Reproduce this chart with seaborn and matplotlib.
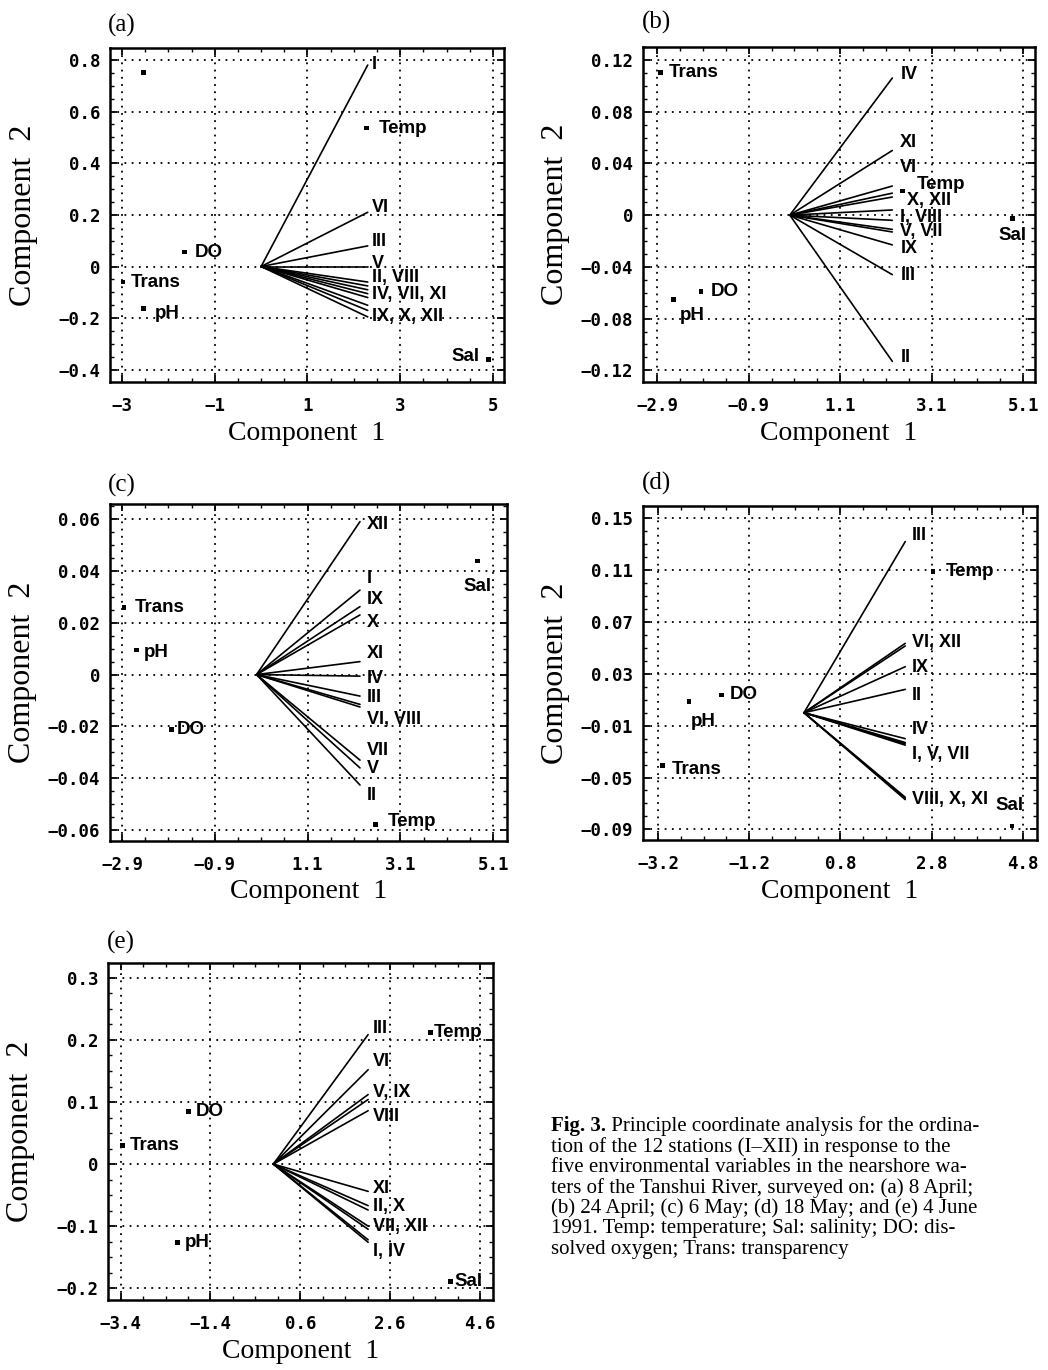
import numpy as np
import pandas as pd
import matplotlib
matplotlib.use("Agg")
import matplotlib.pyplot as plt
import seaborn as sns
from matplotlib.ticker import AutoMinorLocator

sns.set_theme(style="white")
plt.rcParams['font.family'] = ['DejaVu Sans']

# ---------------- data ----------------
stations = ['I', 'II', 'III', 'IV', 'V', 'VI', 'VII', 'VIII', 'IX', 'X', 'XI', 'XII']
variables = ['Temp', 'Sal', 'DO', 'Trans', 'pH']

# panel (a) 8 April
a_sta_x = [2.30, 2.30, 2.30, 2.30, 2.30, 2.30, 2.30, 2.30, 2.30, 2.30, 2.30, 2.30]
a_sta_y = [0.78, -0.06, 0.08, -0.09, 0.0, 0.21, -0.105, -0.075, -0.15, -0.17, -0.12, -0.195]
a_var_x = [2.28, 4.91, -1.66, -2.98, -2.53]
a_var_y = [0.536, -0.36, 0.056, -0.06, -0.161]
a_extra_x = [-2.53]
a_extra_y = [0.75]
a_groups = [['I'], ['VI'], ['III'], ['V'], ['II', 'VIII'], ['IV', 'VII', 'XI'], ['IX', 'X', 'XII']]
a_xticks = ['-3', '-1', '1', '3', '5']
a_yticks = ['-0.4', '-0.2', '0', '0.2', '0.4', '0.6', '0.8']

# panel (b) 24 April
b_sta_x = [2.24, 2.24, 2.24, 2.24, 2.24, 2.24, 2.24, 2.24, 2.24, 2.24, 2.24, 2.24]
b_sta_y = [0.004, -0.113, -0.046, 0.106, -0.011, 0.0225, -0.013, -0.004, -0.023, 0.017, 0.050, 0.014]
b_var_x = [2.46, 4.86, -1.94, -2.83, -2.55]
b_var_y = [0.0186, -0.0023, -0.059, 0.110, -0.065]
b_groups = [['IV'], ['XI'], ['VI'], ['X', 'XII'], ['I', 'VIII'], ['V', 'VII'], ['IX'], ['III'], ['II']]
b_xticks = ['-2.9', '-0.9', '1.1', '3.1', '5.1']
b_yticks = ['-0.12', '-0.08', '-0.04', '0', '0.04', '0.08', '0.12']

# panel (c) 6 May
c_sta_x = [2.23, 2.23, 2.23, 2.23, 2.23, 2.23, 2.23, 2.23, 2.23, 2.23, 2.23, 2.23]
c_sta_y = [0.0326, -0.0426, -0.0083, -0.0006, -0.036, -0.0115, -0.033, -0.0125, 0.0262, 0.023, 0.005, 0.059]
c_var_x = [2.57, 4.77, -1.83, -2.86, -2.58]
c_var_y = [-0.0578, 0.0438, -0.0212, 0.026, 0.0095]
c_groups = [['XII'], ['I'], ['IX'], ['X'], ['XI'], ['IV'], ['III'], ['VI', 'VIII'], ['VII'], ['V'], ['II']]
c_xticks = ['-2.9', '-0.9', '1.1', '3.1', '5.1']
c_yticks = ['-0.06', '-0.04', '-0.02', '0', '0.02', '0.04', '0.06']

# panel (d) 18 May
d_sta_x = [2.22, 2.22, 2.22, 2.22, 2.22, 2.22, 2.22, 2.22, 2.22, 2.22, 2.22, 2.22]
d_sta_y = [-0.024, 0.018, 0.132, -0.020, -0.023, 0.0535, -0.025, -0.0652, 0.0355, -0.066, -0.067, 0.0515]
d_var_x = [2.83, 4.56, -1.80, -3.11, -2.52]
d_var_y = [0.109, -0.0874, 0.0137, -0.041, 0.0085]
d_groups = [['III'], ['VI', 'XII'], ['IX'], ['II'], ['IV'], ['I', 'V', 'VII'], ['VIII', 'X', 'XI']]
d_xticks = ['-3.2', '-1.2', '0.8', '2.8', '4.8']
d_yticks = ['-0.09', '-0.05', '-0.01', '0.03', '0.07', '0.11', '0.15']

# panel (e) 4 June
e_sta_x = [2.11, 2.11, 2.11, 2.11, 2.11, 2.11, 2.11, 2.11, 2.11, 2.11, 2.11, 2.11]
e_sta_y = [-0.126, -0.067, 0.2086, -0.122, 0.112, 0.152, -0.100, 0.086, 0.104, -0.074, -0.044, -0.105]
e_var_x = [3.50, 3.95, -1.88, -3.35, -2.14]
e_var_y = [0.212, -0.189, 0.085, 0.030, -0.127]
e_groups = [['III'], ['VI'], ['V', 'IX'], ['VIII'], ['XI'], ['II', 'X'], ['VII', 'XII'], ['I', 'IV']]
e_xticks = ['-3.4', '-1.4', '0.6', '2.6', '4.6']
e_yticks = ['-0.2', '-0.1', '0', '0.1', '0.2', '0.3']

caption_bold = "Fig. 3."
caption_lines = [
    "  Principle coordinate analysis for the ordina-",
    "tion of the 12 stations (I\u2013XII) in response to the",
    "five environmental variables in the nearshore wa-",
    "ters of the Tanshui River, surveyed on: (a) 8 April;",
    "(b) 24 April; (c) 6 May; (d) 18 May; and (e) 4 June",
    "1991. Temp: temperature; Sal: salinity; DO: dis-",
    "solved oxygen; Trans: transparency",
]

# ---------------- layout / style (pixels) ----------------
W, H = 1048, 1370
panels = {
    'a': dict(box=(110, 504, 48, 382), xlim=(-3.26, 5.24), ylim=(-0.447, 0.846),
              sx=a_sta_x, sy=a_sta_y, vx=a_var_x, vy=a_var_y, groups=a_groups,
              xt=a_xticks, yt=a_yticks, title=(108, 25),
              goff=[(4, 1), (4, 5), (4, 4), (4, 3), (4, 6), (4, -1), (4, -6)],
              voff=[(12, 0, 'left'), (-9, 3, 'right'), (11, 0, 'left'), (8, 0, 'left'), (11, -5, 'left')]),
    'b': dict(box=(643, 1035, 47, 382), xlim=(-3.21, 5.36), ylim=(-0.129, 0.130),
              sx=b_sta_x, sy=b_sta_y, vx=b_var_x, vy=b_var_y, groups=b_groups,
              xt=b_xticks, yt=b_yticks, title=(642, 22),
              goff=[(8, 4), (8, 8), (8, 19), (15, -5), (8, -2), (8, -1), (8, -4), (8, -1), (8, 4)],
              voff=[(14, 7, 'left'), (0, -17, 'center'), (10, 0, 'left'), (8, 0, 'left'), (7, -16, 'left')]),
    'c': dict(box=(110, 507, 504, 841), xlim=(-3.16, 5.40), ylim=(-0.0642, 0.0658),
              sx=c_sta_x, sy=c_sta_y, vx=c_var_x, vy=c_var_y, groups=c_groups,
              xt=c_xticks, yt=c_yticks, title=(108, 485),
              goff=[(7, -3), (7, 12), (7, 7), (7, -8), (7, 8), (7, -2), (7, -1), (7, -14), (7, 10), (7, -1), (7, -10)],
              voff=[(12, 3, 'left'), (0, -25, 'center'), (5, 0, 'left'), (11, 0, 'left'), (7, -3, 'left')]),
    'd': dict(box=(643, 1037, 506, 840), xlim=(-3.53, 5.11), ylim=(-0.0982, 0.1595),
              sx=d_sta_x, sy=d_sta_y, vx=d_var_x, vy=d_var_y, groups=d_groups,
              xt=d_xticks, yt=d_yticks, title=(642, 483),
              goff=[(7, 6), (7, 2), (7, -1), (7, -6), (7, 9), (7, -11), (7, -1)],
              voff=[(13, 0, 'left'), (-2, 21, 'center'), (8, 0, 'left'), (10, -4, 'left'), (2, -20, 'left')]),
    'e': dict(box=(108, 493, 963, 1300), xlim=(-3.68, 4.89), ylim=(-0.219, 0.324),
              sx=e_sta_x, sy=e_sta_y, vx=e_var_x, vy=e_var_y, groups=e_groups,
              xt=e_xticks, yt=e_yticks, title=(107, 942),
              goff=[(5, 6), (5, 8), (5, 5), (5, -6), (5, 3), (5, 1), (5, 1), (5, -10)],
              voff=[(3, 0, 'left'), (4, 0, 'left'), (7, 0, 'left'), (7, 0, 'left'), (8, 0, 'left')]),
}

TICK_FONT = dict(family='DejaVu Sans Mono', weight='bold', size=12.5)
VAR_FONT = dict(family='Liberation Sans', weight='bold', size=13.5)
STA_FONT = dict(family='Liberation Sans', weight='bold', size=13)
SERIF = 'Liberation Serif'

fig = plt.figure(figsize=(W / 100, H / 100), dpi=100)
fig.patch.set_facecolor('white')


def fmt(s):
    return s.replace('-', '\u2212')


for key, p in panels.items():
    l, r, t, b = p['box']
    ax = fig.add_axes([l / W, 1 - b / H, (r - l) / W, (b - t) / H])
    ax.set_facecolor('white')

    # station vectors from the origin
    rows = []
    for st, x, y in zip(stations, p['sx'], p['sy']):
        rows.append(dict(station=st, order=0, x=0.0, y=0.0))
        rows.append(dict(station=st, order=1, x=x, y=y))
    df = pd.DataFrame(rows)
    sns.lineplot(data=df, x='x', y='y', units='station', estimator=None, sort=False,
                 color='black', lw=1.2, ax=ax, legend=False)

    # environmental variables
    vdf = pd.DataFrame(dict(var=variables, x=p['vx'], y=p['vy']))
    sns.scatterplot(data=vdf, x='x', y='y', marker='s', s=12, color='black',
                    edgecolor='none', ax=ax, legend=False, zorder=5)
    if key == 'a':
        sns.scatterplot(x=a_extra_x, y=a_extra_y, marker='s', s=12, color='black',
                        edgecolor='none', ax=ax, legend=False, zorder=5)

    for (name, x, y), (dx, dy, ha) in zip(zip(variables, p['vx'], p['vy']), p['voff']):
        ax.annotate(name, xy=(x, y), xytext=(dx, dy), textcoords='offset pixels',
                    ha=ha, va='center', color='black', **VAR_FONT, zorder=6)

    # station labels
    idx = {s: i for i, s in enumerate(stations)}
    for grp, (dx, dy) in zip(p['groups'], p['goff']):
        gx = max(p['sx'][idx[s]] for s in grp)
        gy = np.mean([p['sy'][idx[s]] for s in grp])
        ax.annotate(', '.join(grp), xy=(gx, gy), xytext=(dx, dy), textcoords='offset pixels',
                    ha='left', va='center', color='black', **STA_FONT, zorder=6)

    ax.set_xlim(*p['xlim'])
    ax.set_ylim(*p['ylim'])
    xt = [float(s) for s in p['xt']]
    yt = [float(s) for s in p['yt']]
    ax.set_xticks(xt)
    ax.set_xticklabels([fmt(s) for s in p['xt']], fontdict=TICK_FONT)
    ax.set_yticks(yt)
    ax.set_yticklabels([fmt(s) for s in p['yt']], fontdict=TICK_FONT)
    ax.xaxis.set_minor_locator(AutoMinorLocator(4))
    ax.yaxis.set_minor_locator(AutoMinorLocator(4))
    ax.tick_params(which='both', direction='in', top=True, right=True, colors='black',
                   bottom=True, left=True)
    ax.tick_params(which='major', length=5, width=1.3)
    ax.tick_params(which='minor', length=3, width=1.0)
    ax.tick_params(axis='x', which='major', pad=11)
    ax.tick_params(axis='y', which='major', pad=7)
    ax.grid(True, which='major', color='black', linestyle=(0, (1, 3)), lw=1.3)
    for sp in ax.spines.values():
        sp.set_visible(True)
        sp.set_color('black')
        sp.set_linewidth(1.8)

    ax.set_xlabel('Component  1', family=SERIF, size=20, color='black')
    ax.set_ylabel('Component  2', family=SERIF, size=23, color='black')
    hpx = b - t
    ax.xaxis.set_label_coords(0.5, -51 / hpx)
    ax.xaxis.label.set_va('center')
    ax.yaxis.set_label_coords(-87 / (r - l), 0.5)
    ax.yaxis.label.set_va('center')
    ax.yaxis.label.set_ha('center')

    tx, ty = p['title']
    fig.text(tx / W, 1 - ty / H, '(%s)' % key, family=SERIF, size=18, ha='left', va='center',
             color='black')

# caption
cx = 551
cy0 = 1126
dy = 20.6
cap_size = 15
t0 = fig.text(cx / W, 1 - cy0 / H, caption_bold, family=SERIF, weight='bold', size=cap_size,
              ha='left', va='center', color='black')
fig.canvas.draw()
bb = t0.get_window_extent(renderer=fig.canvas.get_renderer())
fig.text(bb.x1 / W, 1 - cy0 / H, caption_lines[0][1:],
         family=SERIF, size=cap_size, ha='left', va='center', color='black')
for i, line in enumerate(caption_lines[1:], start=1):
    fig.text(cx / W, 1 - (cy0 + i * dy) / H, line, family=SERIF, size=cap_size,
             ha='left', va='center', color='black')

fig.savefig('out.png', dpi=100, facecolor='white')
